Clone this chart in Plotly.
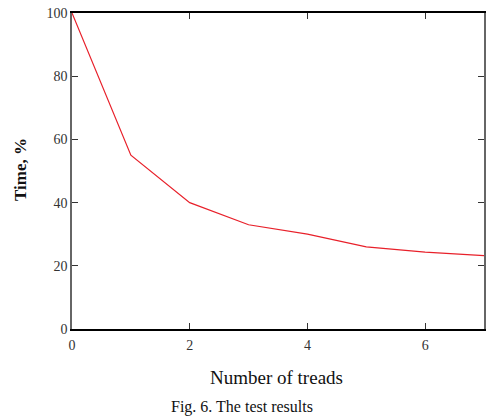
import plotly.graph_objects as go

threads = [0, 1, 2, 3, 4, 5, 6, 7]
time_pct = [100, 55, 40, 33, 30, 26, 24.3, 23.2]
x_ticks = [0, 2, 4, 6]
y_ticks = [0, 20, 40, 60, 80, 100]

fig = go.Figure()
fig.add_trace(go.Scatter(x=threads, y=time_pct, mode="lines",
                         line=dict(color="#e8202a", width=1.2), showlegend=False))

font = "Liberation Serif, Times New Roman, serif"
fig.update_layout(
    width=487, height=419,
    margin=dict(l=72, r=3, t=13, b=90),
    paper_bgcolor="white", plot_bgcolor="white",
    font=dict(family=font, color="#333", size=14),
    xaxis=dict(range=[0, 7], tickvals=x_ticks, ticks="inside", ticklen=6,
               showline=True, linecolor="black", linewidth=1.5, mirror="ticks",
               showgrid=False, zeroline=False, tickcolor="#333", tickwidth=1,
               automargin=False, ticklabelstandoff=2),
    yaxis=dict(range=[0, 100], tickvals=y_ticks, ticks="inside", ticklen=6,
               showline=True, linecolor="#666", linewidth=1.5, mirror="ticks",
               showgrid=False, zeroline=False, tickcolor="#333", tickwidth=1,
               automargin=False, ticklabelstandoff=0),
    annotations=[
        dict(text="<b>Time, %</b>", x=20, y=170, showarrow=False, textangle=-90,
             font=dict(size=17, family=font, color="#111")),
        dict(text="Number of treads", x=276, y=377, showarrow=False,
             font=dict(size=19, family=font, color="#111")),
        dict(text="Fig. 6. The test results", x=242, y=407, showarrow=False,
             font=dict(size=16, family=font, color="#111")),
    ],
)
# convert pixel positions to paper coordinates
pw, ph = 487 - 72 - 3, 419 - 13 - 90
for a in fig.layout.annotations:
    a.x = (a.x - 72) / pw
    a.y = (419 - 90 - a.y) / ph
    a.xref = "paper"; a.yref = "paper"
    a.xanchor = "center"; a.yanchor = "middle"
fig.write_html("out.html", config={"displayModeBar": False},
               post_script="document.body.style.margin='0px';")
